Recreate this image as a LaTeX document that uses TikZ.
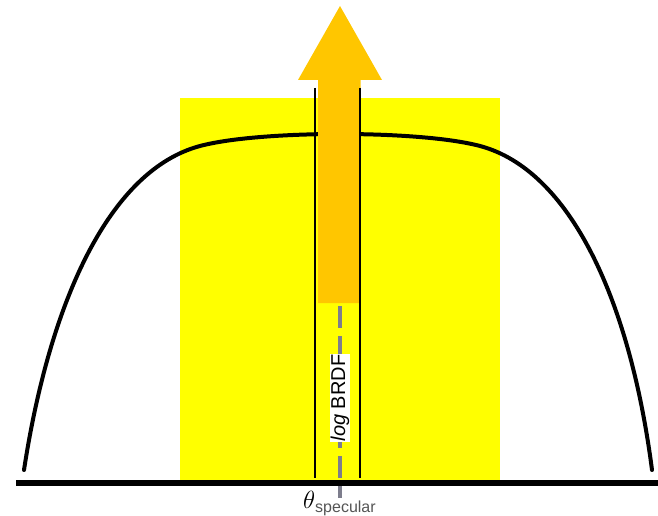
\documentclass[tikz,border=0pt]{standalone}
\usepackage{fontspec}
\setsansfont{Liberation Sans}
\usepackage{tikz}
\usetikzlibrary{positioning}
\definecolor{specyellow}{RGB}{255, 255, 0}
\definecolor{lobeorange}{RGB}{255, 198, 0}
\definecolor{dashgray}{RGB}{125, 125, 140}
\definecolor{labgray}{RGB}{85, 85, 85}

\begin{document}
\begin{tikzpicture}[
          x=1pt, y=-1pt,
          curve/.style={line width=4pt, line cap=round,
                        line join=round},
          edge/.style={line width=2pt},
          vlab/.style={font=\fontsize{20}{20}\selectfont\sffamily,
                       fill=white, inner sep=1pt, rotate=90},
      ]
      \useasboundingbox (0, 0) rectangle (658, 516);

      % specular region
      \fill[specyellow] (180, 98) rectangle (500, 482);

      % BRDF lobe
      \draw[curve] (24, 470) .. controls (50, 300) and (110, 170)
          .. (200, 146) .. controls (260, 130) and (420, 130)
          .. (480, 146) .. controls (570, 170) and (630, 300)
          .. (652, 470);

      % surface line
      \draw[line width=5.5pt] (16, 483) -- (658, 483);

      % peak arrow
      \fill[lobeorange] (318, 303) -- (318, 80) -- (298, 80)
          -- (340, 6) -- (382, 80) -- (360.5, 80)
          -- (360.5, 303) -- cycle;

      % cone edges
      \draw[edge] (315, 88) -- (315, 478);
      \draw[edge] (359.5, 88) -- (359.5, 478);

      % specular direction
      \draw[dashgray, line width=4.5pt,
            dash pattern=on 22pt off 8pt] (340, 306) -- (340, 498);

      % labels
      \node[vlab] (brdf) at (340, 398) {\textit{log} BRDF};
      \node[anchor=base west, inner sep=0pt] (thspec)
          at (303, 508)
          {\fontsize{32}{32}\selectfont$\theta$%
           \raisebox{-4pt}{\fontsize{16}{16}\selectfont
           \sffamily\color{labgray}specular}};
      \end{tikzpicture}
\end{document}
